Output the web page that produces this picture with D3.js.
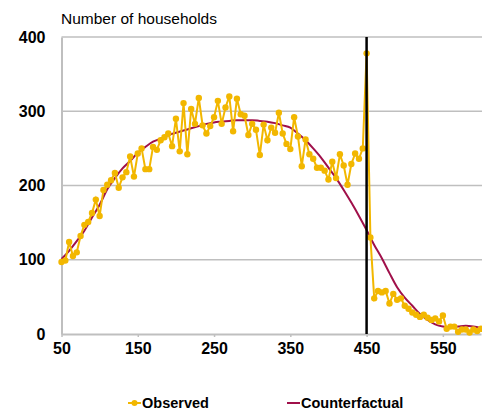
<!DOCTYPE html>
<html>
<head>
<style>
body { margin: 0; background: #fff; }
text { font-family: "Liberation Sans", Arial, sans-serif; }
</style>
</head>
<body>
<script type="text/javascript" src="https://cdn.jsdelivr.net/npm/d3@7"></script>
<script>
// observed households, every 5 units from 50 to 600
var obsX = d3.range(50, 601, 5)
var obsY = [97, 99, 124, 105, 110, 132, 147, 151, 163, 181,
	159, 194, 201, 207, 217, 197, 211, 218, 239, 212,
	243, 250, 222, 222, 252, 248, 261, 265, 270, 253,
	290, 246, 311, 242, 303, 283, 318, 281, 270, 280,
	292, 314, 283, 305, 320, 273, 317, 296, 294, 268,
	283, 275, 241, 282, 261, 278, 271, 298, 270, 256,
	249, 292, 266, 226, 262, 242, 236, 224, 224, 220,
	208, 232, 210, 242, 227, 201, 229, 243, 236, 250,
	378, 130, 48, 58, 56, 58, 41, 54, 46, 48,
	38, 34, 29, 26, 23, 26, 22, 19, 21, 17,
	25, 7, 10, 10, 3, 6, 6, 2, 6, 4, 7]

// counterfactual, every 10 units
var cfX = d3.range(50, 601, 10)
var cfY = [101, 112, 125, 139, 157, 174, 195, 210, 223, 233,
	244, 252, 259, 263, 268, 271, 274, 277, 280, 283,
	285, 286, 287, 288, 288, 288, 287, 286, 284, 281,
	278, 270, 261, 250, 238, 224, 210, 194, 177, 159,
	140, 120, 102, 82, 63, 49, 38, 27, 19, 13,
	10, 9, 10, 11, 10, 8]

var xTicks = [50, 150, 250, 350, 450, 550]
var yTicks = [0, 100, 200, 300, 400]
var cutoff = 450

var legendNames = ["Observed", "Counterfactual"]
var gold = "#F2B700"
var crimson = "#A0104A"
var grey = "#BFBFBF"

var width = 482, height = 410
var svg = d3.select("body").append("svg")
	.attr("width", width)
	.attr("height", height)

var x = d3.scaleLinear().domain([50, 600]).range([61.5, 481])
var y = d3.scaleLinear().domain([0, 400]).range([334, 37])

//gridlines
svg.append("g").selectAll("line")
	.data(yTicks.filter(function(d) { return d > 0 }))
	.enter().append("line")
	.attr("x1", x(50)).attr("x2", width)
	.attr("y1", function(d) { return y(d) })
	.attr("y2", function(d) { return y(d) })
	.style("stroke", grey)
	.style("stroke-width", 1.5)

//axes
var xAxis = svg.append("g")
	.attr("transform", "translate(0," + y(0) + ")")
	.call(d3.axisBottom(x).tickValues(xTicks).tickSize(3).tickPadding(6).tickSizeOuter(0))
var yAxis = svg.append("g")
	.attr("transform", "translate(" + x(50) + ",0)")
	.call(d3.axisLeft(y).tickValues(yTicks).tickSize(0).tickPadding(16))

xAxis.select(".domain").style("stroke", grey).style("stroke-width", 2)
yAxis.select(".domain").style("stroke", grey).style("stroke-width", 2)
xAxis.selectAll(".tick line").style("stroke", grey).style("stroke-width", 1.5)
svg.selectAll(".tick text")
	.style("font-family", "'Liberation Sans', Arial, sans-serif")
	.style("font-size", "16px")
	.style("font-weight", "bold")
	.style("fill", "#000")

//title
svg.append("text")
	.attr("x", 61)
	.attr("y", 24)
	.style("font-size", "15.5px")
	.text("Number of households")

//counterfactual line
var cfLine = d3.line()
	.x(function(d, i) { return x(cfX[i]) })
	.y(function(d) { return y(d) })
	.curve(d3.curveMonotoneX)
svg.append("path")
	.attr("d", cfLine(cfY))
	.attr("fill", "none")
	.attr("stroke", crimson)
	.attr("stroke-width", 2)

//observed line and dots
var obsLine = d3.line()
	.x(function(d, i) { return x(obsX[i]) })
	.y(function(d) { return y(d) })
svg.append("path")
	.attr("d", obsLine(obsY))
	.attr("fill", "none")
	.attr("stroke", gold)
	.attr("stroke-width", 2)

svg.append("g").selectAll("circle")
	.data(obsY)
	.enter().append("circle")
	.attr("cx", function(d, i) { return x(obsX[i]) })
	.attr("cy", function(d) { return y(d) })
	.attr("r", 3.2)
	.attr("fill", gold)

//cutoff line
svg.append("line")
	.attr("x1", x(cutoff)).attr("x2", x(cutoff))
	.attr("y1", y(400)).attr("y2", y(0))
	.style("stroke", "#000")
	.style("stroke-width", 2.5)

//legend
var ly = 403
svg.append("line")
	.attr("x1", 128).attr("x2", 141)
	.attr("y1", ly).attr("y2", ly)
	.style("stroke", gold).style("stroke-width", 2)
svg.append("circle")
	.attr("cx", 134.5).attr("cy", ly).attr("r", 3)
	.attr("fill", gold)
svg.append("text")
	.attr("x", 142).attr("y", ly + 5)
	.style("font-size", "14.5px").style("font-weight", "bold")
	.text(legendNames[0])

svg.append("line")
	.attr("x1", 287).attr("x2", 300)
	.attr("y1", ly).attr("y2", ly)
	.style("stroke", crimson).style("stroke-width", 2)
svg.append("text")
	.attr("x", 301).attr("y", ly + 5)
	.style("font-size", "14.5px").style("font-weight", "bold")
	.text(legendNames[1])
</script>
</body>
</html>
